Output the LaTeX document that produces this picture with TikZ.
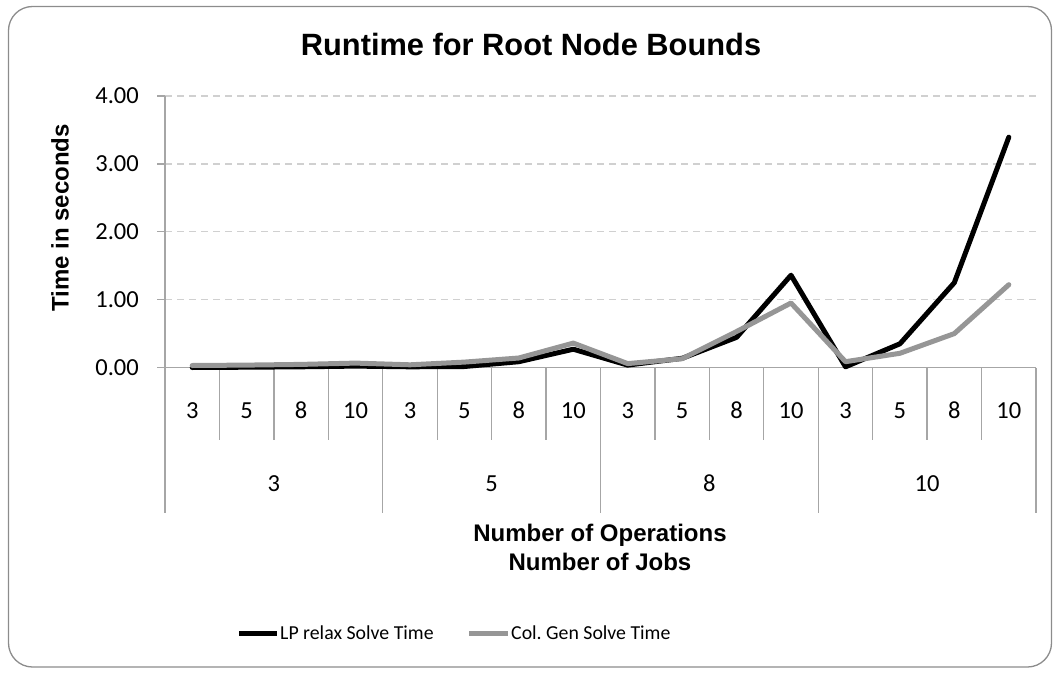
\documentclass[tikz,border=0pt]{standalone}
\usepackage{fontspec}
\setmainfont{Carlito}[Numbers=Lining]
\newfontfamily\headfont{Liberation Sans}
\definecolor{framec}{HTML}{8C8C8C}
\definecolor{axisc}{HTML}{A6A6A6}
\definecolor{gridc}{HTML}{D0D0D0}
\definecolor{cgline}{HTML}{969696}
\begin{document}
\begin{tikzpicture}[x=1pt,y=-1pt,
  axisline/.style={draw=axisc,line width=1.3pt},
  gridline/.style={draw=gridc,line width=1.3pt,dash pattern=on 7pt off 5pt},
  ticklbl/.style={font=\fontsize{24.5}{26}\selectfont,inner sep=0pt},
  titletxt/.style={font=\headfont\bfseries\fontsize{30.8}{34}\selectfont,inner sep=0pt},
  axtitle/.style={font=\headfont\bfseries\fontsize{24}{27}\selectfont,inner sep=0pt,align=center},
  legtxt/.style={font=\fontsize{19.8}{22}\selectfont,inner sep=0pt,anchor=west},
  lpline/.style={draw=black,line width=5pt,line join=round,line cap=round},
  cgstyle/.style={draw=cgline,line width=5pt,line join=round,line cap=round}]
\useasboundingbox (0,0) rectangle (1060,674);
\draw[framec,line width=1.3pt,rounded corners=24pt] (8.5,6.5) rectangle (1051.5,667);
% title
\node[titletxt] (title) at (531,44) {Runtime for Root Node Bounds};
% gridlines
\foreach \v in {1,2,3,4}{
  \draw[gridline] (165,{367.5-67.85*\v}) -- (1036,{367.5-67.85*\v});
}
% y ticks and labels
\foreach \v/\t in {0/0.00,1/1.00,2/2.00,3/3.00,4/4.00}{
  \draw[axisline] (157,{367.5-67.85*\v}) -- (165,{367.5-67.85*\v});
  \node[ticklbl,anchor=base east] (yl\v) at (139,{367.5-67.85*\v+7.8}) {\t};
}
% axes
\draw[axisline] (165,96) -- (165,513);
\draw[axisline] (157,367.5) -- (1036,367.5);
\foreach \k in {1,...,16}{
  \pgfmathtruncatemacro{\r}{mod(\k,4)}
  \ifnum\r=0
    \draw[axisline] ({165+54.4375*\k},367.5) -- ({165+54.4375*\k},513);
  \else
    \draw[axisline] ({165+54.4375*\k},367.5) -- ({165+54.4375*\k},440);
  \fi
}
% category labels
\foreach \g in {0,1,2,3}{
  \foreach \c/\t [count=\j from 0] in {a/3,b/5,c/8,d/10}{
    \node[ticklbl,anchor=base] (cat\g\c) at ({165+54.4375*(4*\g+\j+0.5)},418.5) {\t};
  }
}
\foreach \t [count=\g from 0] in {3,5,8,10}{
  \node[ticklbl,anchor=base] (grp\g) at ({165+217.75*(\g+0.5)},491) {\t};
}
% axis titles
\node[axtitle,rotate=90] (ytitle) at (60,218) {Time in seconds};
\node[axtitle] (xtitle1) at (600,535) {Number of Operations};
\node[axtitle] (xtitle2) at (600,562) {Number of Jobs};
% data
\draw[lpline] (192.2,367.5) -- (246.7,367.2) -- (301.1,366.8) -- (355.5,366.1)
  -- (410.0,366.8) -- (464.4,366.5) -- (518.8,361.7) -- (573.3,349.2)
  -- (627.7,365.1) -- (682.2,358.3) -- (736.6,337.3) -- (791.0,275.2)
  -- (845.5,366.8) -- (899.9,343.8) -- (954.3,282.7) -- (1008.8,137.2);
\draw[cgstyle] (192.2,365.5) -- (246.7,365.1) -- (301.1,364.4) -- (355.5,363.1)
  -- (410.0,364.8) -- (464.4,362.1) -- (518.8,358.0) -- (573.3,343.1)
  -- (627.7,363.6) -- (682.2,358.7) -- (736.6,331.5) -- (791.0,303.0)
  -- (845.5,361.7) -- (899.9,353.3) -- (954.3,333.6) -- (1008.8,284.7);
% legend
\coordinate (lpa) at (239,633);
\coordinate (lpb) at (277,633);
\draw[lpline,line cap=butt] (lpa) -- (lpb);
\node[legtxt] (lptxt) at (280,633) {LP relax Solve Time};
\coordinate (cga) at (469,633);
\coordinate (cgb) at (508,633);
\draw[cgstyle,line cap=butt] (cga) -- (cgb);
\node[legtxt] (cgtxt) at (511,633) {Col.\ Gen Solve Time};
\end{tikzpicture}
\end{document}
